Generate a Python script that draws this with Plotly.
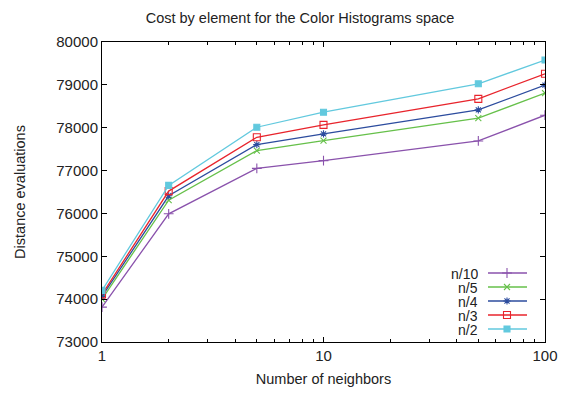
import plotly.graph_objects as go

neighbors = [1, 2, 5, 10, 50, 100]
series_names = ["n/10", "n/5", "n/4", "n/3", "n/2"]
n10 = [73814, 75991, 77051, 77231, 77691, 78292]
n5 = [74002, 76310, 77465, 77699, 78222, 78807]
n4 = [74064, 76412, 77605, 77855, 78417, 78994]
n3 = [74111, 76521, 77777, 78066, 78674, 79259]
n2 = [74204, 76654, 78011, 78362, 79025, 79579]
y_ticks = [73000, 74000, 75000, 76000, 77000, 78000, 79000, 80000]
x_ticks = [1, 10, 100]

values = [n10, n5, n4, n3, n2]
colors = ["#8a52ac", "#66c04a", "#2c4c9e", "#e8242c", "#62c9de"]
symbols = ["cross-thin", "x-thin", "asterisk", "square-open", "square"]
sizes = [7, 6, 6, 7, 6]

FONT = "Liberation Sans, Arial, Helvetica, sans-serif"
W, H = 562, 394
L, R, T, B = 102, 17, 42, 52
pw, ph = W - L - R, H - T - B

fig = go.Figure()
for name, ys, c, s, sz in zip(series_names, values, colors, symbols, sizes):
    fig.add_trace(go.Scatter(
        x=neighbors, y=ys, mode="lines+markers", name=name,
        line=dict(color=c, width=1.3),
        marker=dict(symbol=s, size=sz, color=c, line=dict(color=c, width=1.1)),
        showlegend=False, xaxis="x", yaxis="y"))

# custom gnuplot-style legend (text left, sample right)
def px2paper_x(px):
    return (px - L) / pw

def px2paper_y(py):
    return (H - B - py) / ph

row_y = [273, 287, 301, 315, 329]
for name, c, s, sz, ry in zip(series_names, colors, symbols, sizes, row_y):
    fig.add_annotation(x=px2paper_x(479), y=px2paper_y(ry), xref="paper", yref="paper",
                       text=name, showarrow=False, xanchor="right", yanchor="middle",
                       height=13, borderpad=0,
                       font=dict(family=FONT, size=14, color="#222"))
    fig.add_trace(go.Scatter(
        x=[px2paper_x(488), px2paper_x(507), px2paper_x(527)],
        y=[px2paper_y(ry)] * 3, mode="lines+markers",
        line=dict(color=c, width=1.3),
        marker=dict(symbol=s, size=sz, color=c, line=dict(color=c, width=1.1),
                    opacity=[0, 1, 0]),
        showlegend=False, hoverinfo="skip", xaxis="x2", yaxis="y2"))

axis_common = dict(showline=True, linecolor="#000", linewidth=1, mirror="allticks",
                   ticks="inside", ticklen=5, tickcolor="#000", tickwidth=1,
                   showgrid=False, zeroline=False, automargin=False,
                   ticklabeloverflow="allow",
                   tickfont=dict(family=FONT, size=15, color="#222"))

fig.update_layout(
    width=W, height=H,
    margin=dict(l=L, r=R, t=T, b=B),
    paper_bgcolor="white", plot_bgcolor="white",
    title=dict(text="Cost by element for the Color Histograms space",
               x=300 / W, xanchor="center", y=1 - 18 / H, yanchor="middle",
               font=dict(family=FONT, size=14.5, color="#222")),
    xaxis=dict(type="log", range=[0, 2], tickvals=x_ticks,
               ticktext=[str(v) for v in x_ticks],
               minor=dict(ticks="inside", ticklen=3, tickcolor="#000",
                          tickvals=[2, 3, 4, 5, 6, 7, 8, 9, 20, 30, 40, 50, 60, 70, 80, 90]),
               title=dict(text="Number of neighbors", standoff=10,
                          font=dict(family=FONT, size=14.5, color="#222")),
               **axis_common),
    yaxis=dict(range=[73000, 80000], tickvals=y_ticks,
               ticktext=[str(v) for v in y_ticks],
               title=dict(text="Distance evaluations", standoff=27,
                          font=dict(family=FONT, size=14.5, color="#222")),
               **axis_common),
    xaxis2=dict(overlaying="x", range=[0, 1], visible=False, anchor="y2"),
    yaxis2=dict(overlaying="y", range=[0, 1], visible=False, anchor="x2"),
)

fig.write_html("out.html", config={"displayModeBar": False},
               post_script="document.body.style.margin='0px';")
